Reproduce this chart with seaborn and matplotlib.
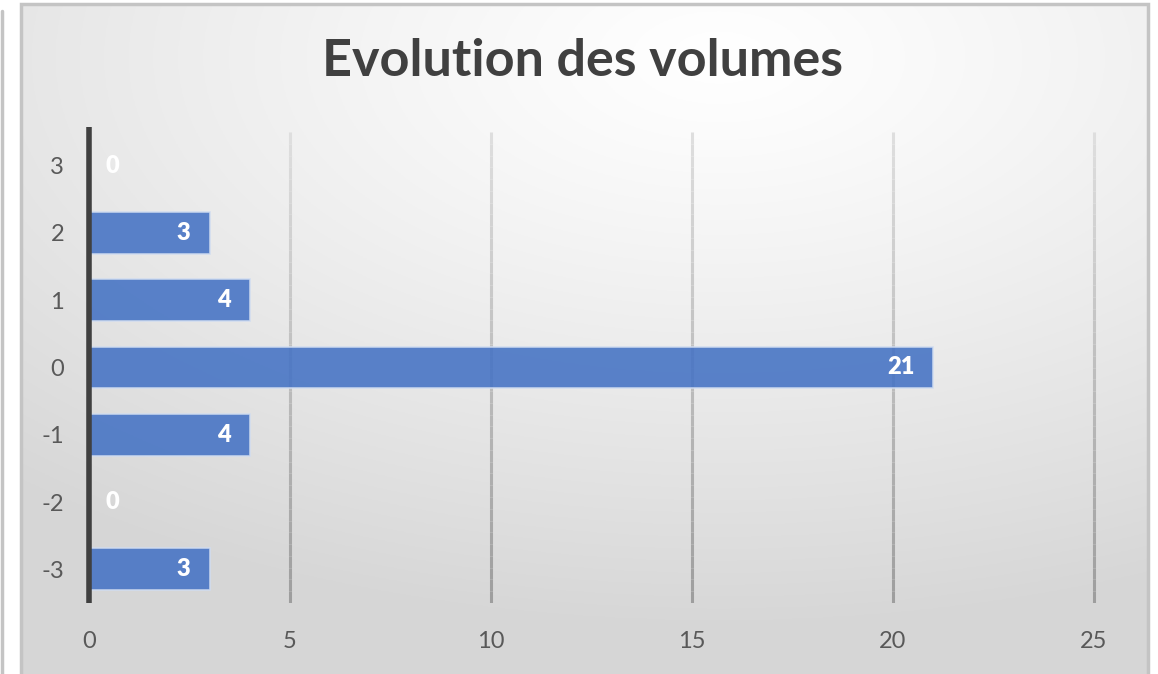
import numpy as np
import pandas as pd
import seaborn as sns
import matplotlib.pyplot as plt
from matplotlib.patches import Rectangle
from matplotlib.lines import Line2D
from matplotlib.collections import LineCollection

# Chart data
categories = ['3', '2', '1', '0', '-1', '-2', '-3']
volumes = [0, 3, 4, 21, 4, 0, 3]
x_ticks = [0, 5, 10, 15, 20, 25]
title = 'Evolution des volumes'

df = pd.DataFrame({'categorie': categories, 'volume': volumes})

sns.set_style('white')
plt.rcParams['font.family'] = ['Lato', 'DejaVu Sans']

W, H = 1158, 674
fig = plt.figure(figsize=(W / 100, H / 100), dpi=100)
fig.patch.set_facecolor('white')

# Background panel with a soft radial gradient
bg = fig.add_axes([20 / W, 0, 1128 / W, 671 / H], zorder=-2)
yy, xx = np.mgrid[0:1:300j, 0:1:500j]
r = np.sqrt(((xx - 0.62) / 1.0) ** 2 + ((yy - 0.08) / 0.9) ** 2)
shade = 1.0 - 0.16 * np.clip(r / 0.95, 0, 1) ** 1.2
bg.imshow(np.dstack([shade] * 3), aspect='auto', extent=[0, 1, 0, 1], origin='upper')
bg.set_axis_off()

# Frame lines
fig.add_artist(Rectangle((20.5 / W, -0.01), 1127 / W, 1 - 4 / H + 0.01,
                         transform=fig.transFigure, fill=False,
                         edgecolor='#c4c4c4', linewidth=2.5))
fig.add_artist(Line2D([1.5 / W, 1.5 / W], [0, 1 - 11 / H],
                      transform=fig.transFigure, color='#c4c4c4', linewidth=2.5))

ax = fig.add_axes([89 / W, 71 / H, 1009 / W, 471 / H])
ax.set_facecolor('none')

sns.barplot(data=df, x='volume', y='categorie', order=categories,
            orient='h', color='#4472C4', saturation=1, alpha=0.88, width=0.62,
            edgecolor='#d0dcf0', linewidth=1.2, ax=ax, zorder=3)

ax.set_xlim(0, 25.1)
ax.set_ylim(6.5, -0.5)
ax.set_xticks(x_ticks)
ax.set_xticklabels([str(t) for t in x_ticks])
ax.grid(False)

# Gridlines fading from light at the top to darker at the bottom
n_seg = 40
ys = np.linspace(0, 1, n_seg + 1)
grey = np.linspace(0.62, 0.87, n_seg)
trans = ax.get_xaxis_transform()
for t in x_ticks[1:]:
    segs = [[(t, ys[k]), (t, ys[k + 1])] for k in range(n_seg)]
    lc = LineCollection(segs, colors=[(g, g, g) for g in grey], linewidths=2.2,
                        transform=trans, zorder=1, capstyle='butt')
    ax.add_collection(lc)

ax.axvline(0, color='#404040', linewidth=4, zorder=5, ymax=1.01,
           clip_on=False, solid_capstyle='butt')

for s in ax.spines.values():
    s.set_visible(False)

ax.tick_params(axis='both', length=0, labelsize=17, colors='#595959')
ax.tick_params(axis='x', pad=20)
ax.tick_params(axis='y', pad=18)
ax.set_xlabel('')
ax.set_ylabel('')

# Data labels
for i, v in enumerate(volumes):
    if v == 0:
        ax.annotate(str(v), (v, i), xytext=(17, 0), textcoords='offset pixels',
                    ha='left', va='center', color='white', fontsize=17,
                    fontweight='heavy', zorder=6)
    else:
        ax.annotate(str(v), (v, i), xytext=(-19, 0), textcoords='offset pixels',
                    ha='right', va='center', color='white', fontsize=17,
                    fontweight='heavy', zorder=6)

fig.text(582 / W, 1 - 62 / H, title, ha='center', va='center',
         fontsize=37.5, fontweight='bold', color='#404040')

plt.savefig('out.png', dpi=100)
